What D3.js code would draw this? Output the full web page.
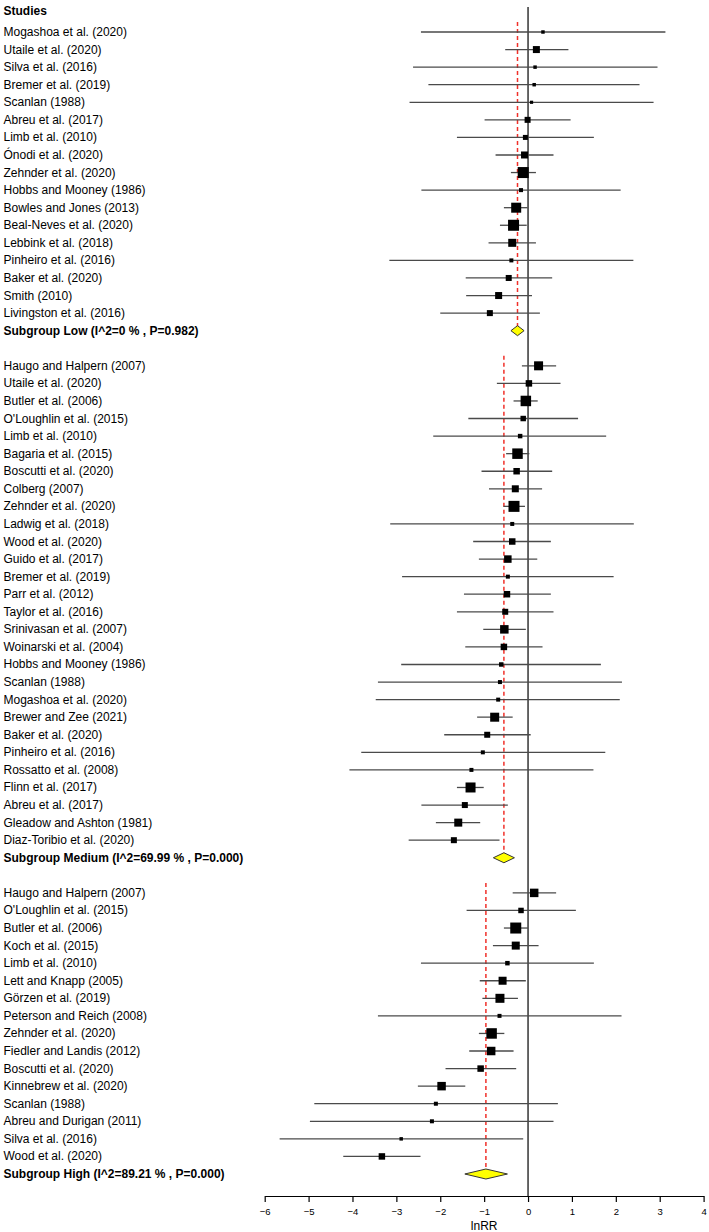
<!DOCTYPE html>
<html>
<head>
<meta charset="utf-8">
<script src="https://cdn.jsdelivr.net/npm/d3@7"></script>
<style>
  html, body { margin: 0; padding: 0; background: #fff; }
  svg { display: block; font-family: "Liberation Sans", Arial, sans-serif; }
</style>
</head>
<body>
<svg id="chart" width="709" height="1232"></svg>
<script>
// ---------- DATA ----------
const lowStudies = ["Mogashoa et al. (2020)","Utaile et al. (2020)","Silva et al. (2016)","Bremer et al. (2019)","Scanlan (1988)","Abreu et al. (2017)","Limb et al. (2010)","Ónodi et al. (2020)","Zehnder et al. (2020)","Hobbs and Mooney (1986)","Bowles and Jones (2013)","Beal-Neves et al. (2020)","Lebbink et al. (2018)","Pinheiro et al. (2016)","Baker et al. (2020)","Smith (2010)","Livingston et al. (2016)"];
const lowEst   = [0.34, 0.19, 0.16, 0.14, 0.08, -0.01, -0.06, -0.08, -0.11, -0.16, -0.27, -0.33, -0.36, -0.38, -0.44, -0.67, -0.87];
const lowLo    = [-2.44, -0.52, -2.62, -2.27, -2.70, -0.99, -1.62, -0.74, -0.39, -2.43, -0.55, -0.64, -0.90, -3.16, -1.42, -1.41, -2.00];
const lowHi    = [3.13, 0.92, 2.95, 2.54, 2.86, 0.97, 1.50, 0.58, 0.18, 2.11, -0.01, -0.03, 0.18, 2.40, 0.55, 0.09, 0.27];
const lowW     = [12, 49, 12, 12, 10, 36, 25, 49, 121, 16, 100, 121, 64, 16, 36, 49, 36];
const lowSummary = { label: "Subgroup Low (I^2=0 % , P=0.982)", est: -0.24, lo: -0.39, hi: -0.09 };

const medStudies = ["Haugo and Halpern (2007)","Utaile et al. (2020)","Butler et al. (2006)","O'Loughlin et al. (2015)","Limb et al. (2010)","Bagaria et al. (2015)","Boscutti et al. (2020)","Colberg (2007)","Zehnder et al. (2020)","Ladwig et al. (2018)","Wood et al. (2020)","Guido et al. (2017)","Bremer et al. (2019)","Parr et al. (2012)","Taylor et al. (2016)","Srinivasan et al. (2007)","Woinarski et al. (2004)","Hobbs and Mooney (1986)","Scanlan (1988)","Mogashoa et al. (2020)","Brewer and Zee (2021)","Baker et al. (2020)","Pinheiro et al. (2016)","Rossatto et al. (2008)","Flinn et al. (2017)","Abreu et al. (2017)","Gleadow and Ashton (1981)","Diaz-Toribio et al. (2020)"];
const medEst   = [0.24, 0.02, -0.05, -0.11, -0.18, -0.24, -0.26, -0.29, -0.32, -0.36, -0.36, -0.46, -0.46, -0.48, -0.52, -0.54, -0.55, -0.61, -0.64, -0.68, -0.76, -0.93, -1.03, -1.29, -1.31, -1.44, -1.59, -1.69];
const medLo    = [-0.14, -0.71, -0.33, -1.36, -2.16, -0.50, -1.06, -0.89, -0.56, -3.14, -1.25, -1.12, -2.87, -1.46, -1.62, -1.02, -1.43, -2.89, -3.42, -3.47, -1.16, -1.91, -3.80, -4.07, -1.62, -2.43, -2.10, -2.72];
const medHi    = [0.64, 0.74, 0.22, 1.14, 1.78, 0.03, 0.55, 0.32, -0.07, 2.41, 0.52, 0.21, 1.95, 0.52, 0.58, -0.05, 0.33, 1.66, 2.14, 2.09, -0.35, 0.06, 1.76, 1.49, -1.01, -0.46, -1.09, -0.65];
const medW     = [81, 42, 110, 30, 20, 110, 42, 49, 121, 16, 42, 56, 16, 42, 36, 72, 42, 20, 16, 16, 81, 36, 16, 16, 100, 36, 64, 36];
const medSummary = { label: "Subgroup Medium (I^2=69.99 % , P=0.000)", est: -0.55, lo: -0.79, hi: -0.31 };

const highStudies = ["Haugo and Halpern (2007)","O'Loughlin et al. (2015)","Butler et al. (2006)","Koch et al. (2015)","Limb et al. (2010)","Lett and Knapp (2005)","Görzen et al. (2019)","Peterson and Reich (2008)","Zehnder et al. (2020)","Fiedler and Landis (2012)","Boscutti et al. (2020)","Kinnebrew et al. (2020)","Scanlan (1988)","Abreu and Durigan (2011)","Silva et al. (2016)","Wood et al. (2020)"];
const highEst  = [0.14, -0.16, -0.28, -0.28, -0.47, -0.58, -0.64, -0.65, -0.83, -0.84, -1.08, -1.97, -2.10, -2.19, -2.89, -3.33];
const highLo   = [-0.35, -1.40, -0.55, -0.80, -2.44, -1.10, -1.04, -3.42, -1.12, -1.34, -1.88, -2.51, -4.87, -4.97, -5.66, -4.21];
const highHi   = [0.64, 1.09, 0.00, 0.24, 1.50, -0.05, -0.23, 2.13, -0.54, -0.33, -0.27, -1.43, 0.68, 0.58, -0.11, -2.45];
const highW    = [72, 30, 121, 64, 20, 64, 81, 16, 110, 72, 42, 72, 16, 16, 12, 42];
const highSummary = { label: "Subgroup High (I^2=89.21 % , P=0.000)", est: -0.96, lo: -1.44, hi: -0.47 };

const tickValues = [-6, -5, -4, -3, -2, -1, 0, 1, 2, 3, 4];
const headerLabel = "Studies";
const axisTitle = "lnRR";

// ---------- BUILD ROWS ----------
function group(names, est, lo, hi, w, summary) {
  return {
    studies: names.map((n, i) => ({ name: n, est: est[i], lo: lo[i], hi: hi[i], w: w[i] })),
    summary
  };
}
const groups = [
  group(lowStudies, lowEst, lowLo, lowHi, lowW, lowSummary),
  group(medStudies, medEst, medLo, medHi, medW, medSummary),
  group(highStudies, highEst, highLo, highHi, highW, highSummary)
];

let idx = 0;
const studyRows = [], summaryRows = [];
groups.forEach((g, gi) => {
  const start = idx;
  g.studies.forEach(s => { studyRows.push({ ...s, row: idx++ }); });
  summaryRows.push({ ...g.summary, row: idx, start });
  idx++;
  if (gi < groups.length - 1) idx++; // blank row
});
const nRows = idx; // 66

// ---------- SCALES ----------
const svg = d3.select("#chart");
const x = d3.scaleLinear().domain([-6, 4]).range([264.7, 703.6]);
const y = d3.scaleLinear().domain([0, nRows - 1]).range([32, 1174]);
const size = d3.scaleSqrt().domain([0, 121]).range([0, 11]);
const axisY = 1196;

// header
svg.append("text").attr("x", 3.5).attr("y", 11)
  .attr("dominant-baseline", "central")
  .attr("font-size", 12).attr("font-weight", "bold").attr("fill", "#000")
  .text(headerLabel);

// zero line
svg.append("line")
  .attr("x1", x(0)).attr("x2", x(0)).attr("y1", 7).attr("y2", axisY)
  .attr("stroke", "#000").attr("stroke-width", 1.2);

// red dashed summary lines
svg.append("g").selectAll("line").data(summaryRows).join("line")
  .attr("x1", d => x(d.est)).attr("x2", d => x(d.est))
  .attr("y1", d => y(d.start) - 10).attr("y2", d => y(d.row) - 4)
  .attr("stroke", "#f0302a").attr("stroke-width", 1.5)
  .attr("stroke-dasharray", "4,3");

// CI lines
svg.append("g").selectAll("line").data(studyRows).join("line")
  .attr("x1", d => x(d.lo)).attr("x2", d => x(d.hi))
  .attr("y1", d => y(d.row)).attr("y2", d => y(d.row))
  .attr("stroke", "#4a4a4a").attr("stroke-width", 1.3);

// squares
svg.append("g").selectAll("rect").data(studyRows).join("rect")
  .attr("x", d => x(d.est) - size(d.w) / 2)
  .attr("y", d => y(d.row) - size(d.w) / 2)
  .attr("width", d => size(d.w)).attr("height", d => size(d.w))
  .attr("fill", "#000");

// diamonds
svg.append("g").selectAll("path").data(summaryRows).join("path")
  .attr("d", d => {
    const cy = y(d.row);
    return `M${x(d.lo)},${cy} L${x(d.est)},${cy - 5} L${x(d.hi)},${cy} L${x(d.est)},${cy + 5} Z`;
  })
  .attr("fill", "#ffff00").attr("stroke", "#333").attr("stroke-width", 1);

// labels
svg.append("g").selectAll("text").data(studyRows).join("text")
  .attr("x", 3.5).attr("y", d => y(d.row))
  .attr("dominant-baseline", "central")
  .attr("font-size", 12).attr("fill", "#000")
  .text(d => d.name);
svg.append("g").selectAll("text").data(summaryRows).join("text")
  .attr("x", 3.5).attr("y", d => y(d.row))
  .attr("dominant-baseline", "central")
  .attr("font-size", 12).attr("font-weight", "bold").attr("fill", "#000")
  .text(d => d.label);

// axis
const axis = d3.axisBottom(x).tickValues(tickValues).tickFormat(d3.format("d"))
  .tickSize(6).tickSizeOuter(0).tickPadding(6);
const ga = svg.append("g").attr("transform", `translate(0,${axisY})`).call(axis);
ga.select(".domain").attr("stroke", "#000").attr("stroke-width", 1.2);
ga.selectAll(".tick line").attr("stroke", "#000").attr("stroke-width", 1.2);
ga.selectAll(".tick text").attr("font-size", 9.5).attr("fill", "#000")
  .attr("font-family", "\"Liberation Sans\", Arial, sans-serif");

svg.append("text").attr("x", x(0) - 43.9).attr("y", 1226)
  .attr("text-anchor", "middle").attr("dominant-baseline", "central")
  .attr("font-size", 12).attr("fill", "#000")
  .text(axisTitle);
</script>
</body>
</html>
